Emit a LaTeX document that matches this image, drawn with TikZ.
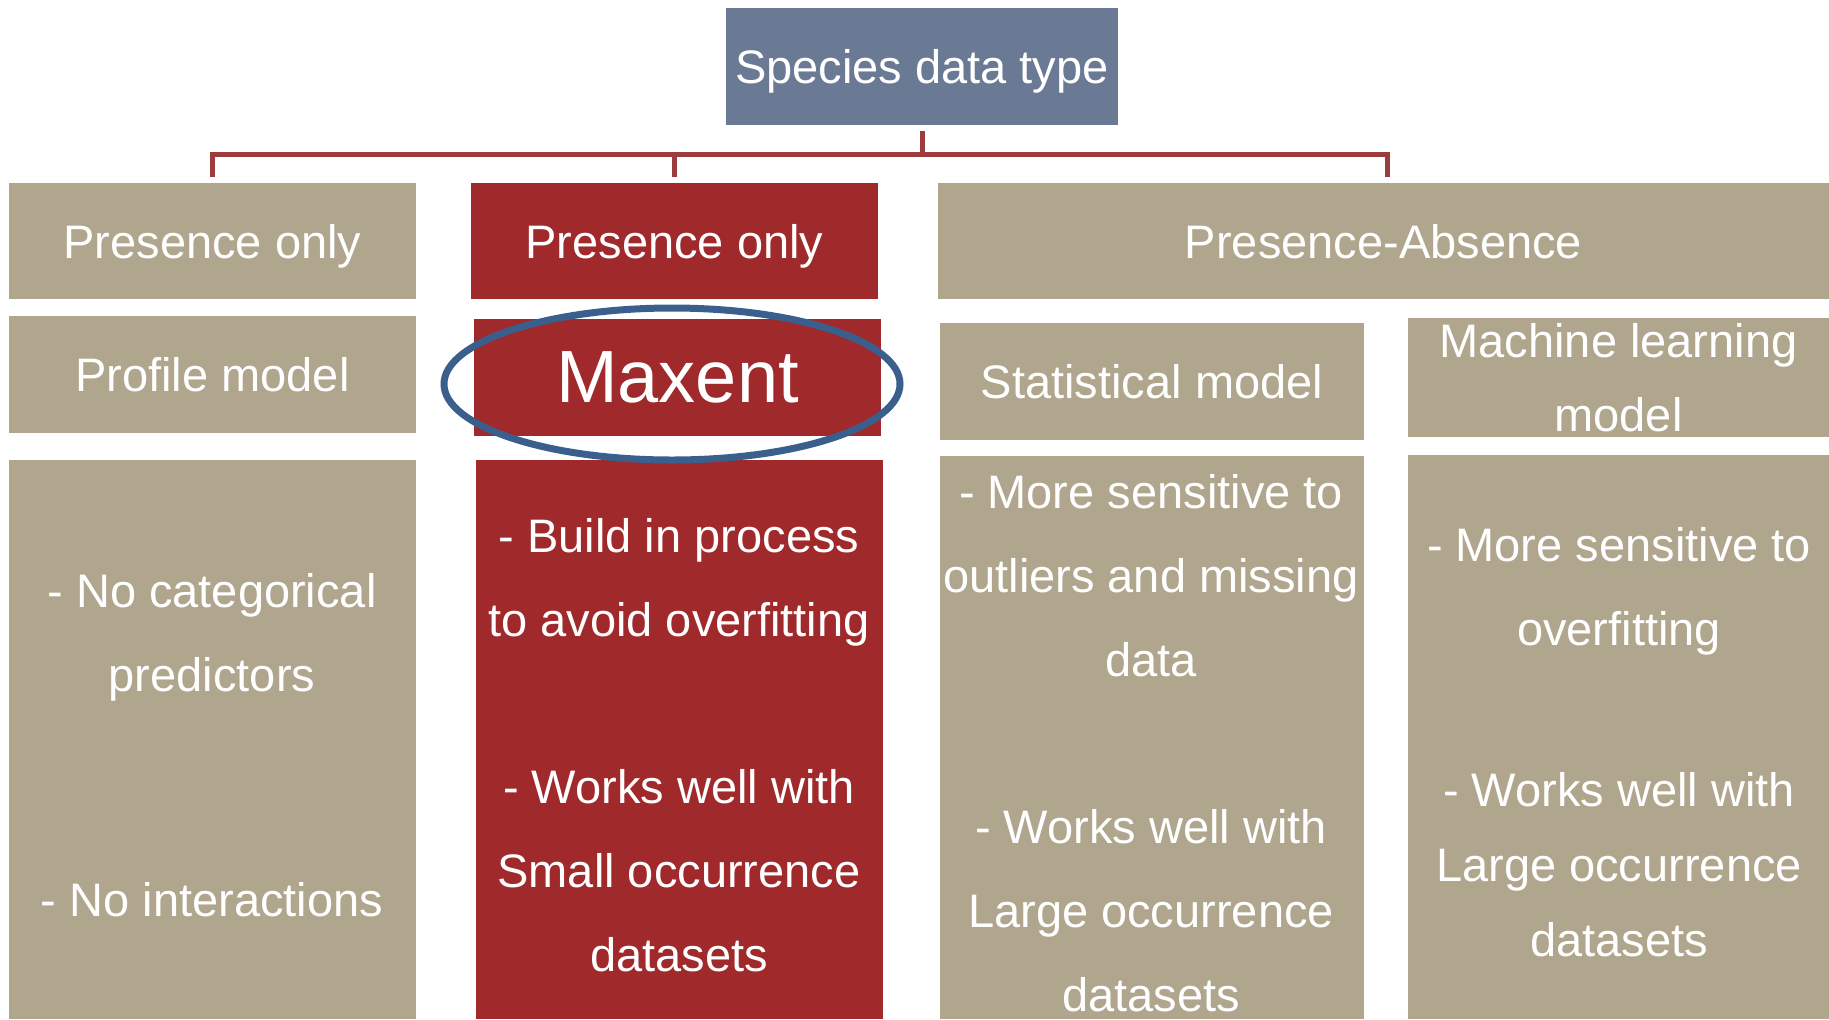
\documentclass[tikz,border=0pt]{standalone}
\usepackage{fontspec}
\setmainfont{Liberation Sans}
\usepackage{tikz}
\usepackage{xcolor}
\usetikzlibrary{shapes.geometric, positioning, calc}
\definecolor{cTan}{RGB}{176,165,141}
\definecolor{cRed}{RGB}{160,41,43}
\definecolor{cSlate}{RGB}{107,122,148}
\definecolor{cRing}{RGB}{58,95,140}
\definecolor{cBranch}{RGB}{157,60,62}
\tikzset{
	cell/.style    ={rectangle, inner sep=0pt, align=center, text=white, text depth=0pt, font=\fontsize{23.5}{42}\selectfont},
	typebox/.style ={cell, fill=cSlate, minimum width=196pt, minimum height=58.5pt},
	tanbox/.style  ={cell, fill=cTan},
	redbox/.style  ={cell, fill=cRed},
	bodytext/.style={rectangle, inner sep=0pt, align=center, text=white, anchor=north, font=\fontsize{23.5}{42}\selectfont},
	branch/.style  ={cBranch, line width=2.5pt},
	ring/.style    ={ellipse, draw=cRing, line width=3.5pt, inner sep=0pt, minimum width=228pt, minimum height=76pt},
}

\begin{document}
\begin{tikzpicture}[x=0.5pt, y=-0.5pt]
	\useasboundingbox (0,0) rectangle (1829,1019);
	% top of the tree
	\node[typebox] (type) at (922,66.5) {Species data type};
	% first row: data kinds
	\node[tanbox, minimum width=203.5pt, minimum height=58pt] (p1) at (212.5,241) {Presence only};
	\node[redbox, minimum width=203.5pt, minimum height=58pt] (p2) at (674.5,241) {Presence only};
	\node[tanbox, minimum width=445.5pt, minimum height=58pt] (p3) at (1383.5,241) {Presence-Absence};
	% second row: model families
	\node[tanbox, minimum width=203.5pt, minimum height=58.5pt] (m1) at (212.5,374.5) {Profile model};
	\node[redbox, minimum width=203.5pt, minimum height=58.5pt, font=\fontsize{37}{44}\selectfont] (m2) at (677.5,377.5) {Maxent};
	\node[tanbox, minimum width=212pt, minimum height=58.5pt] (m3) at (1152,381.5) {Statistical model};
	\node[tanbox, minimum width=210.5pt, minimum height=59.5pt, font=\fontsize{23.5}{37}\selectfont] (m4) at (1618.5,377) {Machine learning\\model};
	% third row: notes
	\node[tanbox, minimum width=203.5pt, minimum height=279.5pt] (d1) at (212.5,739.5) {};
	\node[redbox, minimum width=203.5pt, minimum height=279.5pt] (d2) at (679.5,739.5) {};
	\node[tanbox, minimum width=212pt, minimum height=281.5pt] (d3) at (1152,737.5) {};
	\node[tanbox, minimum width=210.5pt, minimum height=282pt] (d4) at (1618.5,737) {};
	\node[bodytext] (n1a) at (212,548) {\strut- No categorical\\predictors};
	\node[bodytext] (n1b) at (212,857) {\strut- No interactions};
	\node[bodytext] (n2a) at (679,493) {\strut- Build in process\\to avoid overfitting};
	\node[bodytext] (n2b) at (679,744) {\strut- Works well with\\Small occurrence\\datasets};
	\node[bodytext] (n3a) at (1151,449) {\strut- More sensitive to\\outliers and missing\\data};
	\node[bodytext] (n3b) at (1151,784) {\strut- Works well with\\Large occurrence\\datasets};
	\node[bodytext] (n4a) at (1619,502) {\strut- More sensitive to\\overfitting};
	\node[bodytext, font=\fontsize{23.5}{37.5}\selectfont] (n4b) at (1619,753.5) {\strut- Works well with\\Large occurrence\\datasets};
	% highlight round Maxent
	\node[ring] (hl) at (672,384) {};
	% tree lines
	\coordinate (bus) at (922,154);
	\draw[branch] ([yshift=-3pt]type.south) -- (bus);
	\draw[branch] ([yshift=3pt]p1.north) |- ([xshift=1.75pt]p3.north |- bus) -- ([xshift=1.75pt,yshift=3pt]p3.north);
	\draw[branch] ([yshift=3pt]p2.north) -- (p2.north |- bus);
\end{tikzpicture}
\end{document}
